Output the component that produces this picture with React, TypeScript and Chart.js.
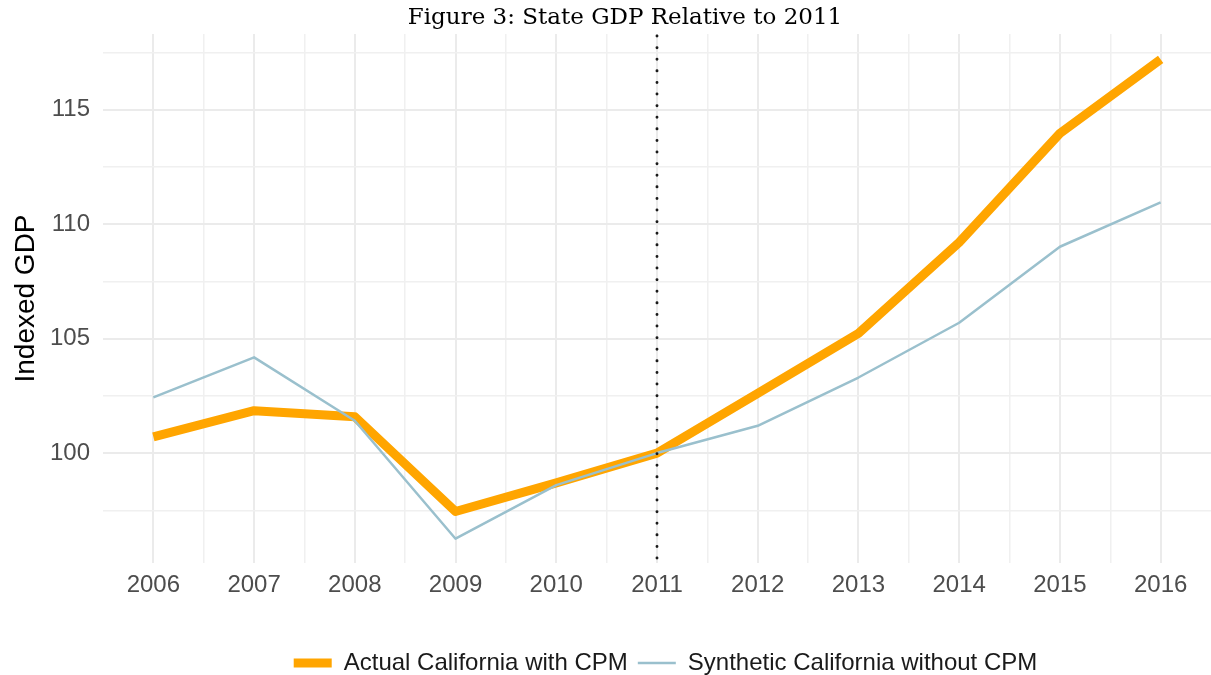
import { useEffect, useRef } from 'react';
import { Chart, registerables } from 'chart.js';

Chart.register(...registerables);

const years = [2006, 2007, 2008, 2009, 2010, 2011, 2012, 2013, 2014, 2015, 2016];
const actualCalifornia = [100.71, 101.85, 101.59, 97.45, 98.7, 100.0, 102.61, 105.23, 109.2, 113.96, 117.19];
const syntheticCalifornia = [102.43, 104.18, 101.41, 96.26, 98.6, 100.0, 101.19, 103.3, 105.69, 109.01, 110.95];
const yTickValues = [97.5, 100, 102.5, 105, 107.5, 110, 112.5, 115, 117.5];
const yLabelValues = [100, 105, 110, 115];
const treatmentYear = 2011;
const titleText = 'Figure 3: State GDP Relative to 2011';
const seriesLabels = ['Actual California with CPM', 'Synthetic California without CPM'];

const X_MIN = years[0] - 0.5;
const X_MAX = years[years.length - 1] + 0.5;
const Y_MIN = 95.2;
const Y_MAX = 118.3;
const xTickValues = [...years.flatMap((y) => [y - 0.5, y]), X_MAX];

const SANS = "'Liberation Sans', Arial, sans-serif";

const titlePlugin = {
  id: 'figTitle',
  afterDraw(chart: any) {
    const ctx = chart.ctx;
    ctx.save();
    ctx.font = "23px 'DejaVu Serif', serif";
    ctx.fillStyle = '#000';
    ctx.textAlign = 'center';
    ctx.textBaseline = 'middle';
    ctx.fillText(titleText, 625, 18);
    ctx.restore();
  },
};

const legendShiftPlugin = {
  id: 'legendShift',
  afterUpdate(chart: any) {
    if (chart.legend) {
      chart.legend.left += 8.5;
      chart.legend.right += 8.5;
    }
  },
};

const treatmentPlugin = {
  id: 'treatmentLine',
  afterDatasetsDraw(chart: any) {
    const { ctx, chartArea, scales } = chart;
    const x = scales.x.getPixelForValue(treatmentYear);
    ctx.save();
    ctx.strokeStyle = '#1a1a1a';
    ctx.lineWidth = 2.9;
    ctx.lineCap = 'round';
    ctx.setLineDash([0.1, 11.5]);
    ctx.beginPath();
    ctx.moveTo(x, chartArea.top + 2);
    ctx.lineTo(x, chartArea.bottom);
    ctx.stroke();
    ctx.restore();
  },
};

export default function App() {
  const ref = useRef<HTMLCanvasElement | null>(null);

  useEffect(() => {
    if (!ref.current) return;
    const chart = new Chart(ref.current, {
      type: 'line',
      data: {
        datasets: [
          {
            label: seriesLabels[0],
            data: years.map((x, i) => ({ x, y: actualCalifornia[i] })),
            borderColor: '#FFA500',
            backgroundColor: '#FFA500',
            borderWidth: 9,
            pointRadius: 0,
            borderJoinStyle: 'round',
            order: 1,
          },
          {
            label: seriesLabels[1],
            data: years.map((x, i) => ({ x, y: syntheticCalifornia[i] })),
            borderColor: '#9AC0CD',
            backgroundColor: '#9AC0CD',
            borderWidth: 2.5,
            pointRadius: 0,
            borderJoinStyle: 'round',
            order: 0,
          },
        ],
      },
      options: {
        animation: false,
        responsive: true,
        maintainAspectRatio: false,
        layout: { padding: { top: 34, bottom: 0, left: 0, right: 0 } },
        plugins: {
          tooltip: { enabled: false },
          title: { display: false },
          legend: {
            position: 'bottom',
            fullSize: false,
            labels: {
              usePointStyle: true,
              pointStyle: 'line',
              pointStyleWidth: 38,
              padding: 10,
              color: '#1a1a1a',
              font: { family: SANS, size: 24 },
              sort: (a: any, b: any) => a.datasetIndex - b.datasetIndex,
            },
          },
        },
        scales: {
          x: {
            type: 'linear',
            min: X_MIN,
            max: X_MAX,
            afterBuildTicks: (scale: any) => {
              scale.ticks = xTickValues.map((value) => ({ value }));
            },
            afterFit: (scale: any) => {
              scale.height = 78;
            },
            ticks: {
              autoSkip: false,
              maxRotation: 0,
              padding: 8,
              color: '#4D4D4D',
              font: { family: SANS, size: 24 },
              callback: (v: any) => (Number.isInteger(v) ? String(v) : ''),
            },
            grid: {
              drawTicks: false,
              color: (c: any) => {
                const v = c.tick?.value;
                if (v === undefined || v <= X_MIN || v >= X_MAX) return 'rgba(0,0,0,0)';
                return Number.isInteger(v) ? '#EBEBEB' : '#F0F0F0';
              },
              lineWidth: (c: any) => (Number.isInteger(c.tick?.value) ? 2 : 1.5),
            },
            border: { display: false },
          },
          y: {
            type: 'linear',
            min: Y_MIN,
            max: Y_MAX,
            afterBuildTicks: (scale: any) => {
              scale.ticks = yTickValues.map((value) => ({ value }));
            },
            afterFit: (scale: any) => {
              scale.width = 103;
            },
            ticks: {
              autoSkip: false,
              padding: 13,
              color: '#4D4D4D',
              font: { family: SANS, size: 24 },
              callback: (v: any) => (yLabelValues.includes(v) ? String(v) : ''),
            },
            title: {
              display: true,
              text: 'Indexed GDP',
              color: '#000',
              font: { family: SANS, size: 28 },
              padding: { top: 9, bottom: 0 },
            },
            grid: {
              drawTicks: false,
              color: (c: any) => (yLabelValues.includes(c.tick?.value) ? '#EBEBEB' : '#F0F0F0'),
              lineWidth: (c: any) => (yLabelValues.includes(c.tick?.value) ? 2 : 1.5),
            },
            border: { display: false },
          },
        },
      },
      plugins: [titlePlugin, treatmentPlugin, legendShiftPlugin],
    } as any);
    return () => chart.destroy();
  }, []);

  return (
    <div style={{ position: 'fixed', left: 0, top: 0, width: 1219, height: 685, background: '#fff' }}>
      <canvas ref={ref} />
    </div>
  );
}
